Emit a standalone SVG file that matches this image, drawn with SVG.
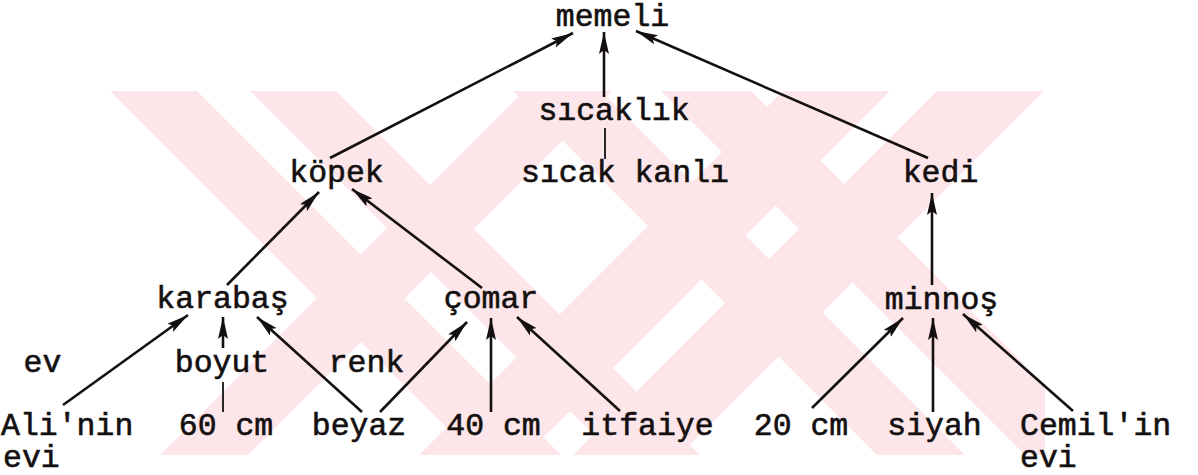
<svg xmlns="http://www.w3.org/2000/svg" width="1198" height="475" viewBox="0 0 1198 475">
<style>
  .t { font-family: "Liberation Mono", "Courier New", monospace; font-size: 31.5px; fill: #141010; stroke: #141010; stroke-width: 0.6px; }
  .e { stroke: #141010; stroke-width: 2.6; fill: none; }
  .thin { stroke: #141010; stroke-width: 1.8; fill: none; }
  .wm { fill: #fde6ea; }
</style>
<defs>
  <marker id="ah" viewBox="0 0 22 10" refX="22" refY="5" markerWidth="22" markerHeight="10" markerUnits="userSpaceOnUse" orient="auto">
    <path d="M0,0 L22,5 L0,10 L4,5 z" fill="#141010"/>
  </marker>
  <clipPath id="wmclip"><rect x="107" y="91" width="938" height="364"/></clipPath>
</defs>
<rect width="1198" height="475" fill="#ffffff"/>
<g id="watermark" clip-path="url(#wmclip)">
  <polygon class="wm" points="110,91 197,91 561,455 474,455"/>
  <polygon class="wm" points="250,91 336,91 700,455 614,455"/>
  <polygon class="wm" points="524,91 612,91 248,455 160,455"/>
  <polygon class="wm" points="513,91 601,91 965,455 877,455"/>
  <polygon class="wm" points="661,91 751,91 1115,455 1025,455"/>
  <polygon class="wm" points="783,91 890,91 526,455 419,455"/>
  <polygon class="wm" points="937,91 1044,91 680,455 573,455"/>
</g>
<g id="connectors">
  <line class="e" x1="330" y1="158" x2="573" y2="33" marker-end="url(#ah)"/>
  <line class="e" x1="604" y1="97" x2="604" y2="32" marker-end="url(#ah)"/>
  <line class="thin" x1="605" y1="128" x2="605" y2="159"/>
  <line class="e" x1="928" y1="158" x2="636" y2="31" marker-end="url(#ah)"/>
  <line class="e" x1="227" y1="285" x2="319" y2="192" marker-end="url(#ah)"/>
  <line class="e" x1="482" y1="288" x2="352" y2="189" marker-end="url(#ah)"/>
  <line class="e" x1="932" y1="285" x2="932" y2="193" marker-end="url(#ah)"/>
  <line class="e" x1="63" y1="405" x2="188" y2="315" marker-end="url(#ah)"/>
  <line class="e" x1="223" y1="348" x2="223" y2="317" marker-end="url(#ah)"/>
  <line class="thin" x1="223" y1="382" x2="223" y2="412"/>
  <line class="e" x1="362" y1="412" x2="257" y2="317" marker-end="url(#ah)"/>
  <line class="e" x1="380" y1="412" x2="467" y2="322" marker-end="url(#ah)"/>
  <line class="e" x1="491" y1="412" x2="491" y2="318" marker-end="url(#ah)"/>
  <line class="e" x1="620" y1="411" x2="517" y2="317" marker-end="url(#ah)"/>
  <line class="e" x1="812" y1="408" x2="903" y2="318" marker-end="url(#ah)"/>
  <line class="e" x1="933" y1="412" x2="933" y2="318" marker-end="url(#ah)"/>
  <line class="e" x1="1073" y1="411" x2="963" y2="314" marker-end="url(#ah)"/>
</g>
<g id="n-memeli"><text class="t" x="612.5" y="26" text-anchor="middle">memeli</text></g>
<g id="l-sicaklik"><text class="t" x="614" y="120" text-anchor="middle">sıcaklık</text></g>
<g id="n-sicakkanli"><text class="t" x="625" y="182" text-anchor="middle">sıcak kanlı</text></g>
<g id="n-kopek"><text class="t" x="336.5" y="182" text-anchor="middle">köpek</text></g>
<g id="n-kedi"><text class="t" x="940.5" y="182" text-anchor="middle">kedi</text></g>
<g id="n-karabas"><text class="t" x="222.5" y="308" text-anchor="middle">karabaş</text></g>
<g id="n-comar"><text class="t" x="491" y="308" text-anchor="middle">çomar</text></g>
<g id="n-minnos"><text class="t" x="941.5" y="309" text-anchor="middle">minnoş</text></g>
<g id="l-ev"><text class="t" x="42.5" y="372" text-anchor="middle">ev</text></g>
<g id="l-boyut"><text class="t" x="222" y="372" text-anchor="middle">boyut</text></g>
<g id="l-renk"><text class="t" x="366.5" y="372" text-anchor="middle">renk</text></g>
<g id="n-alinin"><text class="t" x="1" y="435">Ali'nin<tspan x="3" y="467">evi</tspan></text></g>
<g id="n-60cm"><text class="t" x="226" y="435" text-anchor="middle">60 cm</text></g>
<g id="n-beyaz"><text class="t" x="359" y="435" text-anchor="middle">beyaz</text></g>
<g id="n-40cm"><text class="t" x="493.5" y="435" text-anchor="middle">40 cm</text></g>
<g id="n-itfaiye"><text class="t" x="647.5" y="435" text-anchor="middle">itfaiye</text></g>
<g id="n-20cm"><text class="t" x="801" y="435" text-anchor="middle">20 cm</text></g>
<g id="n-siyah"><text class="t" x="934.5" y="435" text-anchor="middle">siyah</text></g>
<g id="n-cemilin"><text class="t" x="1020" y="435">Cemil'in<tspan x="1020" y="467">evi</tspan></text></g>
</svg>
